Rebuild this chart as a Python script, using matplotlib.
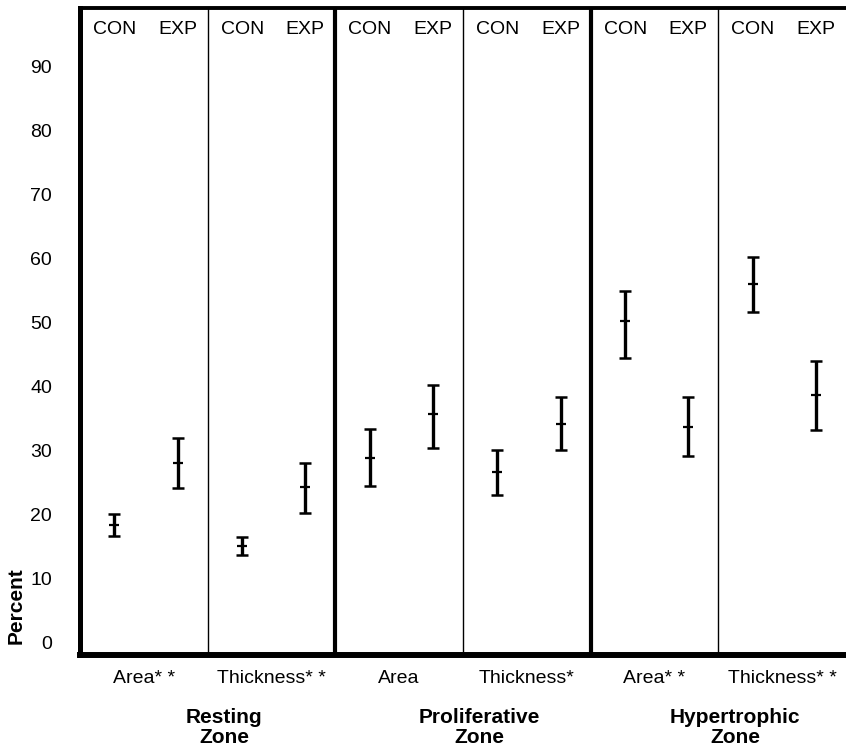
import matplotlib.pyplot as plt
import numpy as np

plt.rcParams['font.family'] = ['Liberation Sans', 'DejaVu Sans']

# panels: Resting area, Resting thickness, Prolif area, Prolif thickness, Hyp area, Hyp thickness
measures = ['Area* *', 'Thickness* *', 'Area', 'Thickness*', 'Area* *', 'Thickness* *']
zones = ['Resting\nZone', 'Proliferative\nZone', 'Hypertrophic\nZone']
groups = ['CON', 'EXP']

con_mean = [18.3, 15.0, 28.8, 26.6, 50.2, 56.0]
con_lo = [16.6, 13.6, 24.5, 23.0, 44.4, 51.6]
con_hi = [20.1, 16.5, 33.4, 30.1, 55.0, 60.3]

exp_mean = [28.1, 24.3, 35.7, 34.2, 33.7, 38.7]
exp_lo = [24.1, 20.2, 30.4, 30.1, 29.2, 33.2]
exp_hi = [32.0, 28.1, 40.3, 38.4, 38.4, 44.0]

yticks = [0, 10, 20, 30, 40, 50, 60, 70, 80, 90]

fig = plt.figure(figsize=(8.46, 7.5), dpi=100)
ax = fig.add_axes([80 / 846, 95 / 750, 1 - 80 / 846, (655 - 8) / 750])

panels = np.arange(len(measures))
x_con = panels + 0.27
x_exp = panels + 0.765

for xs, m, lo, hi in [(x_con, con_mean, con_lo, con_hi), (x_exp, exp_mean, exp_lo, exp_hi)]:
    m = np.array(m)
    yerr = [m - np.array(lo), np.array(hi) - m]
    ax.errorbar(xs, m, yerr=yerr, fmt='none', ecolor='black', elinewidth=2.4,
                capsize=4.5, capthick=1.8)
    ax.plot(xs, m, linestyle='none', marker='_', markersize=7, mew=1.6, color='black')

# panel dividers
for i in range(1, len(measures)):
    lw = 3.0 if i % 2 == 0 else 1.0
    ax.axvline(i, color='black', lw=lw)

ax.set_xlim(0, 6.0)
ax.set_ylim(-2.0, 99.2)
ax.set_xticks([])
ax.set_yticks(yticks)
ax.tick_params(axis='y', length=0, pad=20, labelsize=14)

ax.spines['right'].set_visible(False)
ax.spines['left'].set_linewidth(3.6)
ax.spines['bottom'].set_linewidth(4.3)
ax.spines['top'].set_linewidth(2.8)

# CON / EXP headers
for i in panels:
    ax.text(x_con[i], 95.9, groups[0], ha='center', va='center', fontsize=14)
    ax.text(x_exp[i], 95.9, groups[1], ha='center', va='center', fontsize=14)

# measure labels under each panel
for i, lab in enumerate(measures):
    ax.text(i + 0.5, -5.6, lab, ha='center', va='center', fontsize=14, clip_on=False)

# zone labels
for k, z in enumerate(zones):
    ax.text(2 * k + 1.13, -13.3, z, ha='center', va='center', fontsize=15,
            fontweight='bold', linespacing=1.05, clip_on=False)

fig.text(16 / 846, 1 - 606 / 750, 'Percent', rotation=90, ha='center', va='center',
         fontsize=15, fontweight='bold')

fig.savefig('out.png', dpi=100)
